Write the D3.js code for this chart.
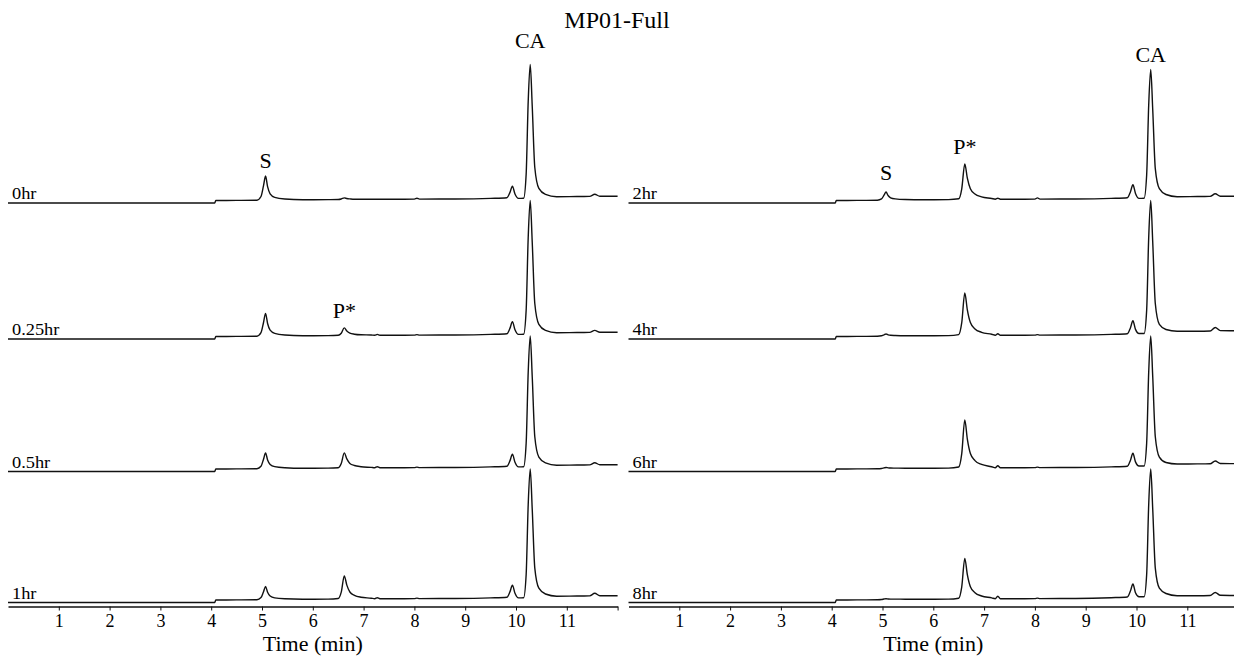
<!DOCTYPE html>
<html>
<head>
<meta charset="utf-8">
<script src="https://cdn.jsdelivr.net/npm/d3@7/dist/d3.min.js"></script>
<style>
  html, body { margin: 0; padding: 0; background: #fff; }
  svg { display: block; }
  text { font-family: "Liberation Serif", "Times New Roman", serif; fill: #000; }
</style>
</head>
<body>
<svg id="chart" width="1234" height="657"></svg>
<script>
// ---------------- DATA ----------------
const chartTitle = "MP01-Full";
const axisTitle = "Time (min)";
const tickValues = [1, 2, 3, 4, 5, 6, 7, 8, 9, 10, 11, 12];
const tickLabels = ["1", "2", "3", "4", "5", "6", "7", "8", "9", "10", "11", ""];

// retention time grid (min)
const times = [0, 4.07, 4.09, 4.5, 4.9, 4.98, 5.03, 5.07, 5.11, 5.16,
  5.25, 5.45, 5.8, 6.3, 6.5, 6.56, 6.62, 6.67, 6.73, 6.82,
  6.95, 7.15, 7.22, 7.27, 7.32, 7.8, 8.0, 8.05, 8.1, 8.8,
  9.5, 9.82, 9.88, 9.93, 9.98, 10.05, 10.15, 10.2, 10.24, 10.28,
  10.32, 10.37, 10.45, 10.58, 10.8, 11.2, 11.45, 11.55, 11.65, 12];

// detector response (relative to each trace's starting level)
const signal0hr = [0, 0, 2.5, 2.6, 2.8, 6.5, 17.4, 27, 16.3, 9.2,
  5.7, 4.0, 3.3, 3.4, 3.5, 4.0, 5.1, 4.5, 4.1, 3.7,
  3.7, 3.8, 3.8, 3.8, 3.8, 3.8, 3.9, 4.7, 3.9, 4.0,
  4.6, 5.2, 10.4, 16.7, 9.0, 4.6, 4.8, 28.9, 101.1, 138.5,
  96.2, 35.5, 14.6, 8.6, 6.3, 6.5, 6.6, 8.7, 6.8, 6.7];
const signal025hr = [0, 0, 2.5, 2.6, 2.8, 6.3, 16.5, 25.5, 15.5, 8.8,
  5.6, 4.0, 3.3, 3.4, 3.7, 5.8, 11.1, 8.1, 5.9, 4.8,
  4.2, 4.0, 3.8, 4.6, 3.8, 3.8, 3.9, 4.4, 3.9, 4.0,
  4.6, 5.2, 10.6, 17.2, 9.2, 4.6, 4.8, 28.9, 101.1, 138.5,
  96.2, 35.5, 14.6, 8.6, 6.3, 6.5, 6.6, 8.6, 6.8, 6.7];
const signal05hr = [0, 0, 2.5, 2.6, 2.8, 5.2, 12.3, 18.5, 11.6, 7.1,
  4.9, 3.8, 3.3, 3.4, 3.8, 8.0, 18.6, 12.6, 8.1, 6.0,
  4.8, 4.1, 3.8, 4.8, 3.8, 3.8, 3.9, 4.4, 3.9, 4.0,
  4.6, 5.2, 10.6, 17.2, 9.2, 4.6, 4.8, 28.4, 98.9, 135.5,
  94.2, 34.8, 14.4, 8.6, 6.3, 6.5, 6.6, 8.7, 6.8, 6.7];
const signal1hr = [0, 0, 2.5, 2.6, 2.8, 4.9, 10.8, 16.0, 10.3, 6.5,
  4.6, 3.7, 3.3, 3.4, 4.0, 10.4, 26.6, 17.4, 10.5, 7.2,
  5.3, 4.3, 3.8, 4.8, 3.8, 3.8, 3.9, 4.4, 3.9, 4.0,
  4.6, 5.2, 10.6, 17.2, 9.2, 4.6, 4.8, 28.0, 97.5, 133.5,
  92.8, 34.4, 14.3, 8.5, 6.3, 6.5, 6.6, 9.2, 6.8, 6.7];
const signal2hr = [0, 0, 2.5, 2.6, 2.8, 4.1, 7.8, 11.0, 7.5, 5.2,
  4.1, 3.5, 3.3, 3.4, 4.2, 14.2, 39.1, 24.9, 14.3, 9.0,
  6.2, 4.5, 3.8, 4.8, 3.8, 3.8, 3.9, 5.1, 3.9, 4.0,
  4.6, 5.2, 11.1, 18.2, 9.6, 4.6, 4.8, 28.0, 97.5, 133.5,
  92.8, 34.4, 14.3, 8.5, 6.3, 6.5, 6.6, 9.2, 6.8, 6.7];
const signal4hr = [0, 0, 2.5, 2.6, 2.8, 3.2, 4.2, 5.0, 4.2, 3.7,
  3.5, 3.3, 3.3, 3.4, 4.4, 16.3, 46.1, 29.1, 16.4, 10.1,
  6.7, 4.7, 3.8, 5.3, 3.8, 3.8, 3.9, 4.4, 3.9, 4.0,
  4.6, 5.2, 11.1, 18.2, 9.6, 5.5, 5.5, 28.9, 101.1, 138.5,
  96.2, 35.5, 14.6, 9.5, 7.8, 7.8, 8.0, 11.5, 8.4, 8.2];
const signal6hr = [0, 0, 2.5, 2.6, 2.8, 3.05, 3.6, 4.0, 3.65, 3.45,
  3.4, 3.3, 3.3, 3.4, 4.5, 17.9, 51.6, 32.4, 18.0, 10.9,
  7.1, 4.8, 3.8, 5.8, 3.8, 3.8, 3.9, 4.4, 3.9, 4.0,
  4.6, 5.2, 11.1, 18.2, 9.6, 5.5, 5.5, 28.4, 98.9, 135.5,
  94.2, 34.8, 14.4, 9.0, 7.5, 7.6, 7.7, 10.5, 8.0, 7.8];
const signal8hr = [0, 0, 2.5, 2.6, 2.8, 3.0, 3.5, 3.8, 3.5, 3.4,
  3.4, 3.3, 3.3, 3.4, 4.3, 15.7, 44.1, 27.9, 15.8, 9.8,
  6.5, 4.6, 3.8, 6.3, 3.8, 3.8, 3.9, 4.4, 3.9, 4.0,
  4.8, 5.5, 11.4, 18.5, 9.8, 5.8, 5.8, 28.0, 97.5, 133.5,
  92.8, 34.4, 14.3, 9.0, 6.8, 6.8, 7.0, 10.0, 7.2, 7.0];

// trace names per panel and vertical stacking offset of each row (signal units)
const leftTraceNames = ["0hr", "0.25hr", "0.5hr", "1hr"];
const rightTraceNames = ["2hr", "4hr", "6hr", "8hr"];
const stackOffsets = [403.5, 267.5, 135, 4];
const leftSignals = [signal0hr, signal025hr, signal05hr, signal1hr];
const rightSignals = [signal2hr, signal4hr, signal6hr, signal8hr];

// peak annotations
const peakLabels = ["S", "P*", "CA", "S", "P*", "CA"];
const peakTimes = [5.07, 6.62, 10.28, 5.07, 6.62, 10.28];
const peakPanels = [0, 0, 0, 1, 1, 1];
const peakRows = [0, 1, 0, 0, 0, 0];

// ---------------- LAYOUT ----------------
const W = 1234, H = 657;
const panelLeft = [8, 628.5];
const pxPerMin = 50.8;
const axisY = 606.5;
const annotGap = [8, 10, 17, 12, 10, 8];

const svg = d3.select("#chart");

const y = d3.scaleLinear().domain([0, 600]).range([axisY, axisY - 600]);

const line = (x) => d3.line()
  .x((d) => x(d[0]))
  .y((d) => y(d[1]))
  .curve(d3.curveMonotoneX);

const panels = [
  { names: leftTraceNames, signals: leftSignals },
  { names: rightTraceNames, signals: rightSignals }
];

panels.forEach((p, pi) => {
  const x = d3.scaleLinear().domain([0, 12]).range([panelLeft[pi], panelLeft[pi] + 12 * pxPerMin]);
  const g = svg.append("g");

  // traces
  p.signals.forEach((sig, ri) => {
    const pts = times.map((t, i) => [t, stackOffsets[ri] + sig[i]]);
    g.append("path")
      .attr("d", line(x)(pts))
      .attr("fill", "none")
      .attr("stroke", "#111")
      .attr("stroke-width", 1.4)
      .attr("stroke-linejoin", "round");
    const lx = panelLeft[pi] + 4;
    g.append("text")
      .attr("x", lx)
      .attr("y", y(stackOffsets[ri]) - 3.5)
      .attr("font-size", 17)
      .attr("transform", `translate(${lx},0) scale(1.08,1) translate(${-lx},0)`)
      .text(p.names[ri]);
  });

  // axis
  const axis = d3.axisBottom(x)
    .tickValues(tickValues)
    .tickFormat((d, i) => tickLabels[i])
    .tickSize(4)
    .tickSizeOuter(0)
    .tickPadding(4);
  const ag = g.append("g").attr("transform", `translate(0,${axisY})`).call(axis);
  ag.select(".domain").attr("stroke", "#111").attr("stroke-width", 1.3);
  ag.selectAll(".tick line").attr("stroke", "#111").attr("stroke-width", 1);
  ag.selectAll(".tick text")
    .attr("font-family", "'Liberation Serif', 'Times New Roman', serif")
    .attr("font-size", 18)
    .attr("fill", "#000");

  g.append("text")
    .attr("x", x(6))
    .attr("y", 651)
    .attr("text-anchor", "middle")
    .attr("font-size", 22)
    .text(axisTitle);

  // annotations
  peakLabels.forEach((lab, k) => {
    if (peakPanels[k] !== pi) return;
    const ri = peakRows[k];
    const idx = times.indexOf(peakTimes[k]);
    const v = stackOffsets[ri] + p.signals[ri][idx];
    g.append("text")
      .attr("x", x(peakTimes[k]))
      .attr("y", y(v) - annotGap[k])
      .attr("text-anchor", "middle")
      .attr("font-size", 22)
      .text(lab);
  });
});

svg.append("text")
  .attr("x", W / 2)
  .attr("y", 28)
  .attr("text-anchor", "middle")
  .attr("font-size", 24)
  .text(chartTitle);
</script>
</body>
</html>
